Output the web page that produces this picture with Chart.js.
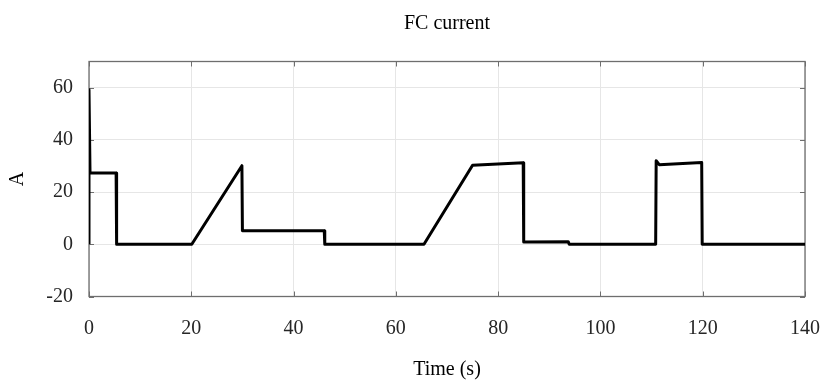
<!DOCTYPE html>
<html>
<head>
<meta charset="utf-8">
<script src="https://cdn.jsdelivr.net/npm/chart.js@4/dist/chart.umd.min.js"></script>
<style>
  html, body { margin: 0; padding: 0; background: #ffffff; }
  #wrap { width: 821px; height: 383px; }
</style>
</head>
<body>
<div id="wrap"><canvas id="c" width="821" height="383"></canvas></div>
<script>
// ---- data ----
const chartTitle = 'FC current';
const xAxisTitle = 'Time (s)';
const yAxisTitle = 'A';
const timeValues = [0, 0, 0.2, 5.3, 5.4, 20.1, 29.9, 30.0, 46.0, 46.1, 65.5, 75.0, 84.9, 85.0, 93.7, 93.9, 110.8, 110.9, 111.5, 119.8, 119.9, 140];
const currentValues = [0, 59.2, 27.3, 27.3, 0, 0, 30.1, 5.2, 5.2, 0, 0, 30.3, 31.2, 0.9, 1.0, 0, 0, 32.0, 30.5, 31.3, 0, 0];
const xTickValues = [0, 20, 40, 60, 80, 100, 120, 140];
const yTickValues = [-20, 0, 20, 40, 60];
const xRange = [0, 140];
const yRange = [-20, 70];

const points = timeValues.map((t, i) => ({ x: t, y: currentValues[i] }));
const FONT = "'Liberation Serif', 'Times New Roman', serif";
const AXIS_COLOR = '#6e6e6e';

const boxPlugin = {
  id: 'boxAndTicks',
  afterLayout(chart) {
    // centre the chart title over the plot area
    const tb = chart.titleBlock;
    if (tb) {
      tb.left = chart.chartArea.left;
      tb.right = chart.chartArea.right;
      tb.width = tb.right - tb.left;
    }
  },
  beforeDatasetsDraw(chart) {
    const { ctx, chartArea: a, scales } = chart;
    ctx.save();
    ctx.strokeStyle = AXIS_COLOR;
    ctx.lineWidth = 1.3;
    ctx.strokeRect(a.left, a.top, a.right - a.left, a.bottom - a.top);
    ctx.lineWidth = 1;
    const L = 5;
    ctx.beginPath();
    scales.x.ticks.forEach(t => {
      const px = Math.round(scales.x.getPixelForValue(t.value)) + 0.5;
      ctx.moveTo(px, a.bottom); ctx.lineTo(px, a.bottom - L);
      ctx.moveTo(px, a.top); ctx.lineTo(px, a.top + L);
    });
    scales.y.ticks.forEach(t => {
      const py = Math.round(scales.y.getPixelForValue(t.value)) + 0.5;
      ctx.moveTo(a.left, py); ctx.lineTo(a.left + L, py);
      ctx.moveTo(a.right, py); ctx.lineTo(a.right - L, py);
    });
    ctx.stroke();
    ctx.restore();
  }
};

new Chart(document.getElementById('c'), {
  type: 'line',
  data: {
    datasets: [{
      data: points,
      borderColor: '#000000',
      borderWidth: 3,
      pointRadius: 0,
      tension: 0,
      fill: false,
      borderJoinStyle: 'round',
      borderCapStyle: 'butt'
    }]
  },
  options: {
    responsive: false,
    animation: false,
    devicePixelRatio: 1,
    layout: { padding: { left: 0, right: 16, top: 0, bottom: 0 } },
    plugins: {
      legend: { display: false },
      tooltip: { enabled: false },
      title: {
        display: true,
        text: chartTitle,
        color: '#000000',
        font: { family: FONT, size: 20, weight: 'normal' },
        padding: { top: 12, bottom: 25.5 }
      }
    },
    scales: {
      x: {
        type: 'linear',
        min: xRange[0],
        max: xRange[1],
        afterBuildTicks: s => { s.ticks = xTickValues.map(v => ({ value: v })); },
        afterFit: s => { s.height = 86.5; s.paddingLeft = 0; s.paddingRight = 0; },
        grid: { color: '#e6e6e6', lineWidth: 1, drawTicks: false },
        border: { display: false },
        ticks: {
          color: '#262626',
          font: { family: FONT, size: 20 },
          padding: 20,
          maxRotation: 0,
          autoSkip: false
        },
        title: {
          display: true,
          text: xAxisTitle,
          color: '#000000',
          font: { family: FONT, size: 20 },
          padding: { top: 0, bottom: 1 }
        }
      },
      y: {
        type: 'linear',
        min: yRange[0],
        max: yRange[1],
        afterBuildTicks: s => { s.ticks = yTickValues.map(v => ({ value: v })); },
        afterFit: s => { s.width = 89; s.paddingTop = 0; s.paddingBottom = 0; },
        grid: { color: '#e6e6e6', lineWidth: 1, drawTicks: false },
        border: { display: false },
        ticks: {
          color: '#262626',
          font: { family: FONT, size: 20 },
          padding: 16,
          autoSkip: false
        },
        title: {
          display: true,
          text: yAxisTitle,
          color: '#000000',
          font: { family: FONT, size: 20 },
          padding: { top: 6, bottom: 0 }
        }
      }
    }
  },
  plugins: [boxPlugin]
});
</script>
</body>
</html>
